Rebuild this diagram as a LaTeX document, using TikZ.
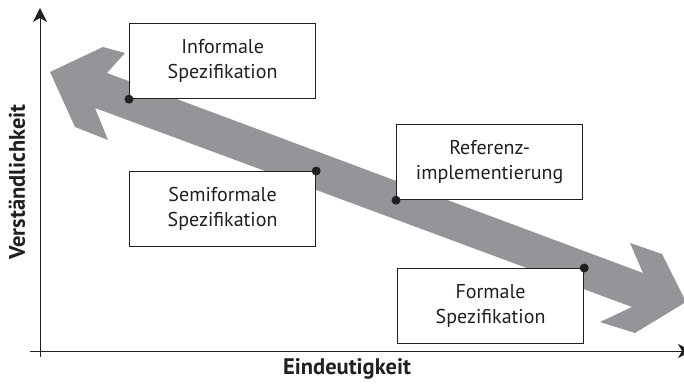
\documentclass[tikz,border=0pt]{standalone}
\usepackage{fontspec}
\setmainfont{PT Sans}
\usetikzlibrary{arrows.meta}
\definecolor{bandgray}{RGB}{148,149,152}
\definecolor{inkblack}{RGB}{35,31,32}
\begin{document}
\begin{tikzpicture}[x=1pt,y=-1pt,
  labelbox/.style={draw=inkblack, line width=1.2pt, fill=white,
    minimum width=186pt, minimum height=75pt, align=center, inner sep=0pt,
    text=inkblack, font=\fontsize{20}{25}\selectfont},
  cornerdot/.style={circle, fill=inkblack, inner sep=0pt, minimum size=9pt},
  axisline/.style={draw=inkblack, line width=1pt,
    -{Stealth[length=14pt,width=14pt,inset=4pt]}},
  axislabel/.style={text=inkblack, font=\fontsize{22.5}{26}\selectfont\bfseries}]

  % page frame
  \useasboundingbox (0,0) rectangle (684,385);
  \clip (0,0) rectangle (684,385);

  % broad double-headed arrow running from upper left to lower right
  \fill[bandgray]
    (50,72) -- (103,47) -- (125,53) -- (107,73)
    -- (643,273) -- (630,243) -- (662,254) -- (686,302)
    -- (635,333) -- (600,322) -- (632,307)
    -- (95,108) -- (108,140) -- (75,127) -- cycle;

  % axes
  \coordinate (origin) at (40,357);
  \coordinate (ytip) at (40,8);
  \coordinate (xstart) at (30,351);
  \coordinate (xtip) at (692,351);
  \draw[axisline] (origin) -- (ytip);
  \draw[axisline] (xstart) -- (xtip);

  \node[axislabel] (xlab) at (347,369) {Eindeutigkeit};
  \node[axislabel, rotate=90] (ylab) at (17,182) {Verständlichkeit};

  % specification kinds
  \node[labelbox, anchor=north west] (inf) at (129,23) {Informale\\Spezifikation};
  \node[labelbox, anchor=north west] (semi) at (129,171) {Semiformale\\Spezifikation};
  \node[labelbox, anchor=north west] (ref) at (396,124) {Referenz-\\implementierung};
  \node[labelbox, anchor=north west] (form) at (397,268) {Formale\\Spezifikation};

  % markers where each box meets the arrow
  \node[cornerdot] (dinf) at (inf.south west) {};
  \node[cornerdot] (dsemi) at (semi.north east) {};
  \node[cornerdot] (dref) at (ref.south west) {};
  \node[cornerdot] (dform) at (form.north east) {};
\end{tikzpicture}
\end{document}
